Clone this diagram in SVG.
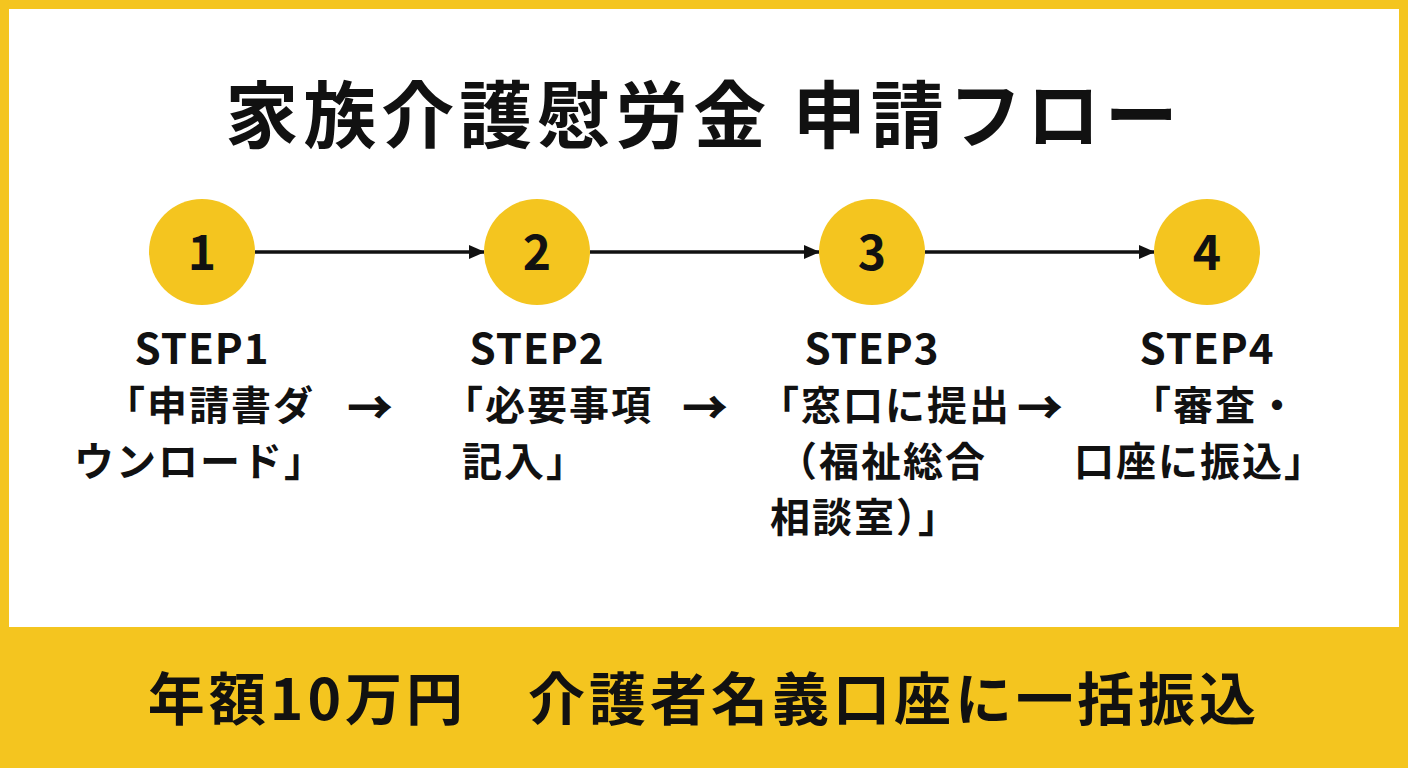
<svg xmlns="http://www.w3.org/2000/svg" width="1408" height="768" viewBox="0 0 1408 768">
<style>
text{font-family:"Noto Sans CJK JP","Noto Sans",sans-serif;font-weight:bold;fill:#111;text-anchor:middle}
.num{font-size:48px}
.step{font-size:42px;letter-spacing:1px}
.lbl{font-size:40px;letter-spacing:2px}
.arr{font-size:46px;font-weight:900}
.c{fill:#F4C51F}
</style>
<defs><marker id="ah" markerWidth="16" markerHeight="16" refX="15" refY="8" orient="auto" markerUnits="userSpaceOnUse" viewBox="0 0 16 16"><path d="M0,1 L16,8 L0,15 z" fill="#111"/></marker></defs>
<rect width="1408" height="768" fill="#F4C51F"/>
<rect x="9" y="9" width="1390" height="618" fill="#fff"/>
<text x="704" y="142" style="font-size:73px;letter-spacing:5px">家族介護慰労金 申請フロー</text>
<g id="connectors" stroke="#111" stroke-width="3.5">
<line x1="255" y1="252" x2="484" y2="252" marker-end="url(#ah)"/>
<line x1="590" y1="252" x2="819" y2="252" marker-end="url(#ah)"/>
<line x1="925" y1="252" x2="1154" y2="252" marker-end="url(#ah)"/>
</g>
<g id="step1"><circle class="c" cx="202" cy="252" r="53"/><text class="num" x="202" y="270">1</text>
<text class="step" x="202" y="364">STEP1</text><text class="lbl" x="210" y="420">「申請書ダ</text><text class="lbl" x="200" y="476">ウンロード」</text></g>
<g id="step2"><circle class="c" cx="537" cy="252" r="53"/><text class="num" x="537" y="270">2</text>
<text class="step" x="537" y="364">STEP2</text><text class="lbl" x="548" y="420">「必要事項</text><text class="lbl" x="525" y="476">記入」</text></g>
<g id="step3"><circle class="c" cx="872" cy="252" r="53"/><text class="num" x="872" y="270">3</text>
<text class="step" x="872" y="364">STEP3</text><text class="lbl" x="885" y="420">「窓口に提出</text><text class="lbl" x="882" y="476">（福祉総合</text><text class="lbl" x="865" y="532">相談室）」</text></g>
<g id="step4"><circle class="c" cx="1207" cy="252" r="53"/><text class="num" x="1207" y="270">4</text>
<text class="step" x="1207" y="364">STEP4</text><text class="lbl" x="1215" y="420">「審査・</text><text class="lbl" x="1200" y="476">口座に振込」</text></g>
<g id="arrows-text"><text class="arr" x="370" y="424">→</text><text class="arr" x="705" y="424">→</text><text class="arr" x="1040" y="424">→</text></g>
<text x="704" y="720" style="font-size:57px;letter-spacing:4px">年額10万円　介護者名義口座に一括振込</text>
</svg>
